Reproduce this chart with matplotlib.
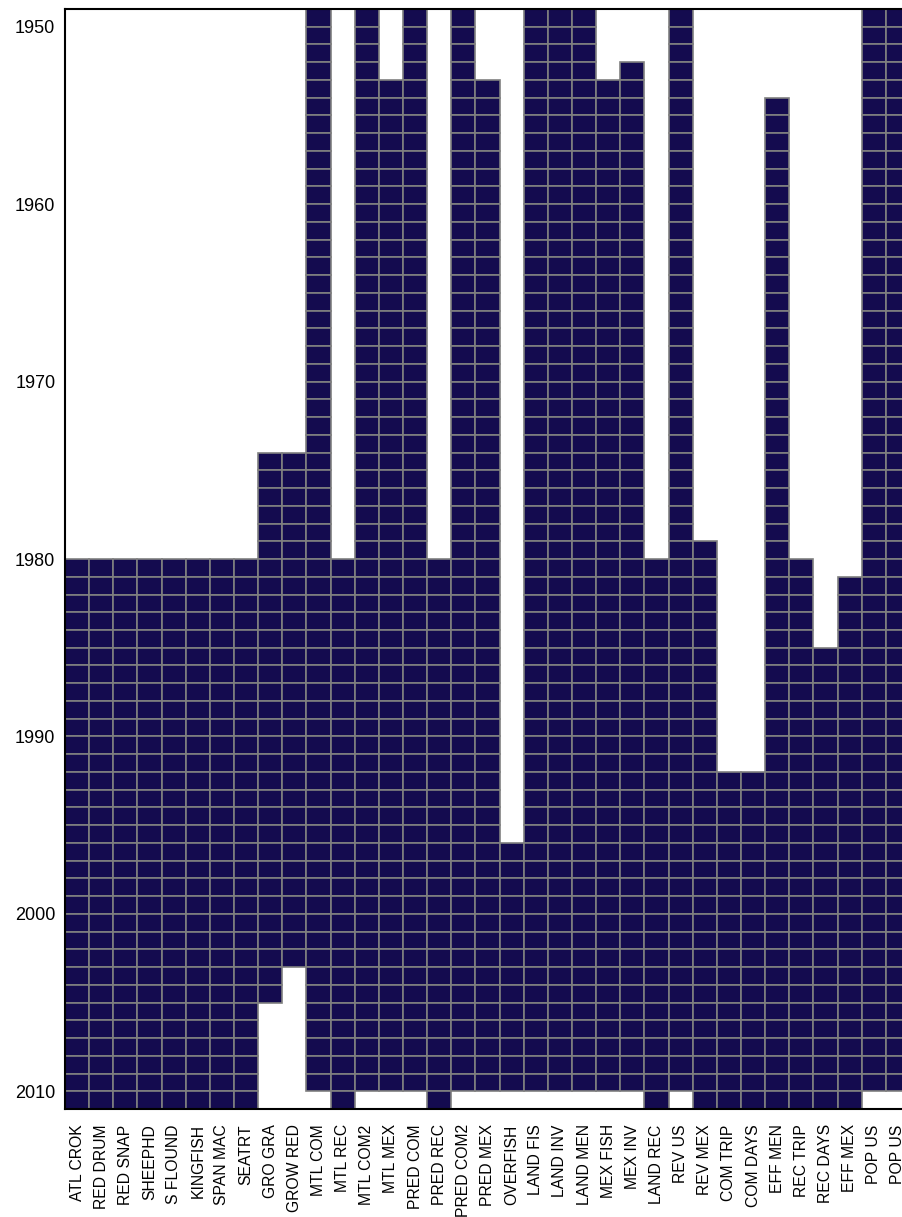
import numpy as np
from matplotlib import pyplot as plt

variables = ['ATL CROK', 'RED DRUM', 'RED SNAP', 'SHEEPHD', 'S FLOUND',
             'KINGFISH', 'SPAN MAC', 'SEATRT', 'GRO GRA', 'GROW RED',
             'MTL COM', 'MTL REC', 'MTL COM2', 'MTL MEX', 'PRED COM',
             'PRED REC', 'PRED COM2', 'PRED MEX', 'OVERFISH', 'LAND FIS',
             'LAND INV', 'LAND MEN', 'MEX FISH', 'MEX INV', 'LAND REC',
             'REV US', 'REV MEX', 'COM TRIP', 'COM DAYS', 'EFF MEN',
             'REC TRIP', 'REC DAYS', 'EFF MEX', 'POP US', 'POP US']
first_year = [1981, 1981, 1981, 1981, 1981, 1981, 1981, 1981, 1975, 1975,
              1950, 1981, 1950, 1954, 1950, 1981, 1950, 1954, 1997, 1950,
              1950, 1950, 1954, 1953, 1981, 1950, 1980, 1993, 1993, 1955,
              1981, 1986, 1982, 1950, 1950]
last_year = [2011, 2011, 2011, 2011, 2011, 2011, 2011, 2011, 2005, 2003,
             2010, 2011, 2010, 2010, 2010, 2011, 2010, 2010, 2010, 2010,
             2010, 2010, 2010, 2010, 2011, 2010, 2011, 2011, 2011, 2011,
             2011, 2011, 2011, 2010, 2010]
year_ticks = [1950, 1960, 1970, 1980, 1990, 2000, 2010]

NAVY = '#140b4f'
GRID = '#808080'


def main():
    fig = plt.figure(figsize=(9.02, 12.17), dpi=100)
    ax = fig.add_axes([0.0721, 0.0887, 0.9368, 0.9039])
    for i, (start, end) in enumerate(zip(first_year, last_year)):
        years = np.arange(start, end + 1)
        ax.bar(np.full(len(years), i + 0.5), 1, bottom=years - 1, width=1,
               color=NAVY, edgecolor=GRID, linewidth=1.2)
    ax.set_xlim(0, len(variables))
    ax.set_ylim(2011, 1949)
    ax.set_xticks(np.arange(len(variables)) + 0.5)
    ax.set_xticklabels(variables, rotation=90, fontsize=11.3,
                       family='Liberation Sans')
    ax.set_yticks(year_ticks)
    ax.set_yticklabels([str(y) for y in year_ticks], fontsize=13,
                       family='Liberation Sans')
    ax.tick_params(axis='x', length=0, pad=11)
    ax.tick_params(axis='y', length=0, pad=7)
    for s in ax.spines.values():
        s.set_linewidth(1.5)
        s.set_zorder(5)
    fig.savefig('out.png', dpi=100)


if __name__ == '__main__':
    main()
